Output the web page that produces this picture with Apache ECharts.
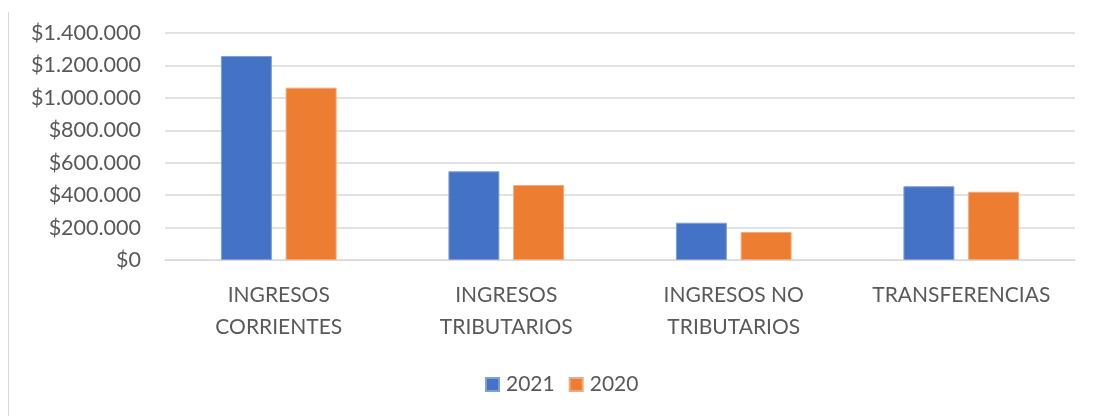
<!DOCTYPE html>
<html>
<head>
<meta charset="utf-8">
<script src="https://cdn.jsdelivr.net/npm/echarts@6/dist/echarts.min.js"></script>
<style>
  html, body { margin: 0; padding: 0; background: #ffffff; }
  #chart { width: 1095px; height: 416px; }
</style>
</head>
<body>
<div id="chart"></div>
<script>
// Ingresos por concepto, 2021 vs 2020
const categories = ['INGRESOS\nCORRIENTES', 'INGRESOS\nTRIBUTARIOS', 'INGRESOS NO\nTRIBUTARIOS', 'TRANSFERENCIAS'];
const seriesNames = ['2021', '2020'];
const values2021 = [1258000, 547000, 230000, 455000];
const values2020 = [1063000, 463000, 173000, 421000];
const yTicks = { min: 0, max: 1400000, interval: 200000 };

const FONT = 'Lato';
const TEXT = '#595959';
const GRID_LINE = '#d9d9d9';

// "$1.400.000" style: dot as thousands separator
function pesos(v) {
  return '$' + String(Math.round(v)).replace(/\B(?=(\d{3})+(?!\d))/g, '.');
}

const chart = echarts.init(document.getElementById('chart'), null, { renderer: 'canvas' });

chart.setOption({
  animation: false,
  backgroundColor: '#ffffff',
  textStyle: { fontFamily: FONT },
  graphic: [{
    type: 'line',
    shape: { x1: 8.5, y1: 12, x2: 8.5, y2: 416 },
    style: { stroke: GRID_LINE, lineWidth: 1 }
  }],
  grid: { left: 165, right: 20, top: 33, bottom: 156 },
  legend: {
    data: seriesNames,
    left: 480,
    top: 369,
    itemWidth: 13,
    itemHeight: 13,
    itemGap: 14,
    icon: 'rect',
    textStyle: { color: TEXT, fontSize: 21, fontFamily: FONT, padding: [0, 0, 0, 2] }
  },
  xAxis: {
    type: 'category',
    data: categories,
    axisLine: { show: true, lineStyle: { color: GRID_LINE, width: 1 } },
    axisTick: { show: false },
    axisLabel: {
      color: TEXT,
      fontSize: 21,
      fontFamily: FONT,
      lineHeight: 32,
      margin: 19,
      interval: 0
    }
  },
  yAxis: {
    type: 'value',
    min: yTicks.min,
    max: yTicks.max,
    interval: yTicks.interval,
    axisLine: { show: false },
    axisTick: { show: false },
    splitLine: { lineStyle: { color: GRID_LINE, width: 1.5 } },
    axisLabel: {
      color: TEXT,
      fontSize: 21.5,
      fontFamily: FONT,
      margin: 24,
      formatter: pesos
    }
  },
  series: [
    {
      name: seriesNames[0],
      type: 'bar',
      data: values2021,
      barWidth: '22.4%',
      barGap: '27%',
      itemStyle: { color: '#4472C4', borderColor: '#7f9fd8', borderWidth: 1 }
    },
    {
      name: seriesNames[1],
      type: 'bar',
      data: values2020,
      barWidth: '22.4%',
      itemStyle: { color: '#ED7D31', borderColor: '#f4a878', borderWidth: 1 }
    }
  ]
});
</script>
</body>
</html>
